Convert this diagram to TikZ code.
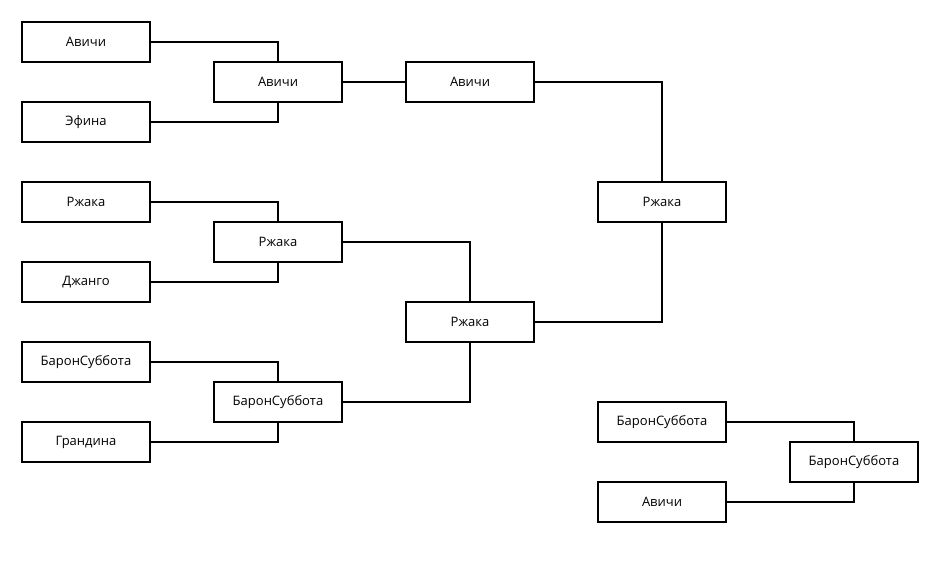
\documentclass[tikz,border=0pt]{standalone}
\usepackage{fontspec}
\setmainfont{Open Sans}
\begin{document}
\begin{tikzpicture}[x=1pt,y=-1pt,
  box/.style={draw=black,line width=1.1pt,fill=white,minimum width=128pt,minimum height=40pt,inner sep=0pt,font=\fontsize{13}{15}\selectfont},
  link/.style={draw=black,line width=1.1pt}]
\useasboundingbox[fill=white] (0,0) rectangle (949,583);
% column 1
\node[box] (a1) at (86,42) {Авичи};
\node[box] (a2) at (86,122) {Эфина};
\node[box] (a3) at (86,202) {Ржака};
\node[box] (a4) at (86,282) {Джанго};
\node[box] (a5) at (86,362) {БаронСуббота};
\node[box] (a6) at (86,442) {Грандина};
% column 2
\node[box] (b1) at (278,82) {Авичи};
\node[box] (b2) at (278,242) {Ржака};
\node[box] (b3) at (278,402) {БаронСуббота};
% column 3
\node[box] (c1) at (470,82) {Авичи};
\node[box] (c2) at (470,322) {Ржака};
% column 4
\node[box] (d1) at (662,202) {Ржака};
% bottom right
\node[box] (e1) at (662,422) {БаронСуббота};
\node[box] (e2) at (662,502) {Авичи};
\node[box] (e3) at (854,462) {БаронСуббота};
% connectors
\draw[link] (a1.east) -| (b1.north);
\draw[link] (a2.east) -| (b1.south);
\draw[link] (a3.east) -| (b2.north);
\draw[link] (a4.east) -| (b2.south);
\draw[link] (a5.east) -| (b3.north);
\draw[link] (a6.east) -| (b3.south);
\draw[link] (b1.east) -- (c1.west);
\draw[link] (b2.east) -| (c2.north);
\draw[link] (b3.east) -| (c2.south);
\draw[link] (c1.east) -| (d1.north);
\draw[link] (c2.east) -| (d1.south);
\draw[link] (e1.east) -| (e3.north);
\draw[link] (e2.east) -| (e3.south);
\end{tikzpicture}
\end{document}
